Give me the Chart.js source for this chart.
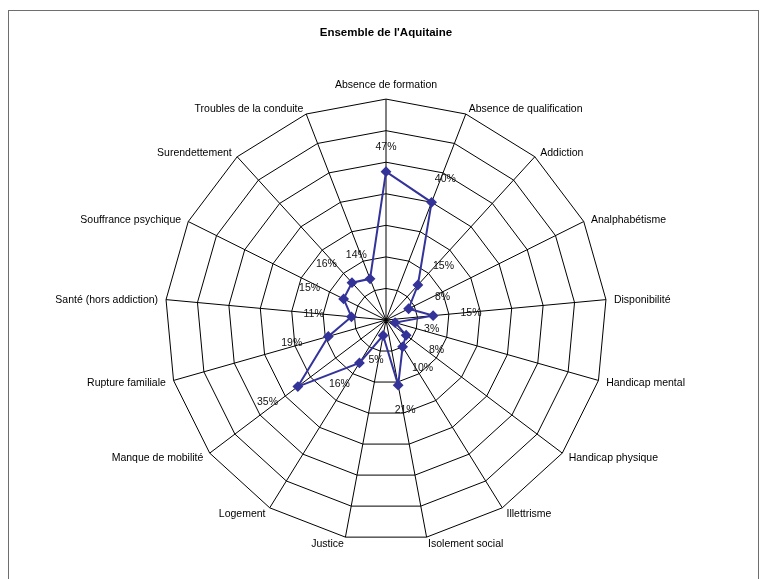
<!DOCTYPE html>
<html>
<head>
<meta charset="utf-8">
<script src="https://cdn.jsdelivr.net/npm/chart.js@4.4.1/dist/chart.umd.min.js"></script>
<style>
    html, body { margin: 0; padding: 0; background: #fff; }
    #wrap { position: relative; width: 768px; height: 579px; overflow: hidden; }
    #cadre { position: absolute; left: 8px; top: 10px; width: 751px; height: 600px; border: 1px solid #6e6e6e; box-sizing: border-box; }
    canvas { position: absolute; left: 0; top: 0; }
</style>
</head>
<body>
<div id="wrap">
    <div id="cadre"></div>
    <canvas id="radar" width="768" height="579"></canvas>
</div>
<script>
// Catégories (axes du radar)
const categories = [
    'Absence de formation', 'Absence de qualification', 'Addiction', 'Analphabétisme',
    'Disponibilité', 'Handicap mental', 'Handicap physique', 'Illettrisme',
    'Isolement social', 'Justice', 'Logement', 'Manque de mobilité',
    'Rupture familiale', 'Santé (hors addiction)', 'Souffrance psychique',
    'Surendettement', 'Troubles de la conduite'
];

// Valeurs en %
const valeurs = [47, 40, 15, 8, 15, 3, 8, 10, 21, 5, 16, 35, 19, 11, 15, 16, 14];

// Échelle
const echelleMax = 70;
const echellePas = 10;

const police = '"Liberation Sans", Arial, sans-serif';
const bleu = '#333399';
const taillePolice = 10.5;

// Étiquettes de données placées vers l'extérieur de chaque point
const etiquettesPlugin = {
    id: 'etiquettes',
    afterDatasetsDraw(chart) {
        const ctx = chart.ctx;
        const scale = chart.scales.r;
        ctx.save();
        ctx.font = taillePolice + 'px ' + police;
        ctx.fillStyle = '#111';
        ctx.textAlign = 'center';
        ctx.textBaseline = 'middle';
        valeurs.forEach((v, i) => {
            const p = scale.getPointPosition(i, scale.getDistanceFromCenterForValue(v));
            const x = p.x + Math.cos(p.angle) * 38;
            const y = p.y + Math.sin(p.angle) * 25;
            ctx.fillText(v + '%', x, y);
        });
        ctx.restore();
    }
};

document.addEventListener('DOMContentLoaded', function() {
    const ctx = document.getElementById('radar').getContext('2d');
    new Chart(ctx, {
        type: 'radar',
        data: {
            labels: categories,
            datasets: [{
                label: 'Ensemble de l\'Aquitaine',
                data: valeurs,
                borderColor: bleu,
                backgroundColor: bleu,
                borderWidth: 2,
                fill: false,
                pointStyle: 'rectRot',
                pointRadius: 4,
                pointBackgroundColor: bleu,
                pointBorderColor: bleu,
                tension: 0
            }]
        },
        options: {
            responsive: false,
            animation: false,
            layout: {
                padding: { left: 12, right: 8, top: 0, bottom: 18.5 }
            },
            scales: {
                r: {
                    min: 0,
                    max: echelleMax,
                    ticks: { stepSize: echellePas, display: false },
                    grid: { color: '#000', lineWidth: 1 },
                    angleLines: { color: '#000', lineWidth: 1 },
                    pointLabels: {
                        padding: 8,
                        color: '#000',
                        font: { size: taillePolice, family: police }
                    },
                    // libellés latéraux à peu près centrés sur le sommet, comme dans Excel
                    afterFit: function(scale) {
                        const lh = taillePolice * 1.2;
                        scale._pointLabelItems.forEach((item, i) => {
                            if (i === 0) return;
                            const a = scale.getIndexAngle(i);
                            const sommet = scale.getPointPosition(i, scale.drawingArea);
                            const centre = sommet.y - 6.5 * Math.cos(a) + 1;
                            const dy = (centre - lh / 2) - item.y;
                            item.y += dy;
                            item.top += dy;
                            item.bottom += dy;
                        });
                    }
                }
            },
            plugins: {
                legend: { display: false },
                tooltip: { enabled: false },
                title: {
                    display: true,
                    text: 'Ensemble de l\'Aquitaine',
                    color: '#000',
                    font: { size: 11.5, weight: 'bold', family: police },
                    padding: { top: 26, bottom: 37.7 }
                }
            }
        },
        plugins: [etiquettesPlugin]
    });
});
</script>
</body>
</html>
